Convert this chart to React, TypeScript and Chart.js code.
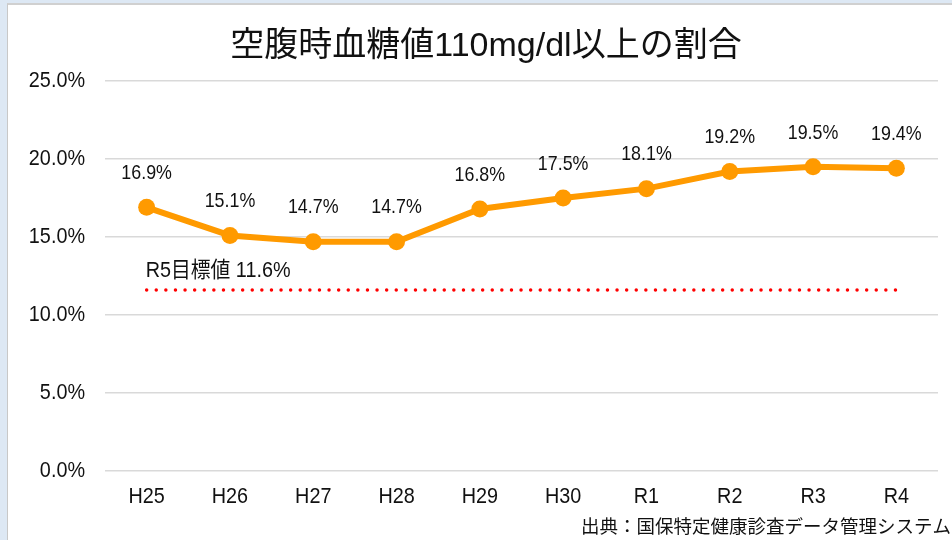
import React, { useEffect, useRef } from "react";
import { Chart, registerables } from "chart.js";

Chart.register(...registerables);

const categories = ["H25", "H26", "H27", "H28", "H29", "H30", "R1", "R2", "R3", "R4"];
const rates = [16.9, 15.1, 14.7, 14.7, 16.8, 17.5, 18.1, 19.2, 19.5, 19.4];
const targetValue = 11.6;
const targetLine = categories.map(() => targetValue);
const targetLabel = "R5目標値 11.6%";
const titleText = "空腹時血糖値110mg/dl以上の割合";
const sourceText = "出典：国保特定健康診査データ管理システム";
const yTicks = [0, 5, 10, 15, 20, 25];

const SANS = '"Liberation Sans", Arial, "Noto Sans CJK JP", sans-serif';
const CJK = '"Noto Sans CJK JP", "Noto Sans", sans-serif';

function drawText(ctx: any, text: string, x: number, y: number, align: string, sx: number) {
  ctx.save();
  ctx.textAlign = align;
  ctx.textBaseline = "middle";
  ctx.scale(sx, 1);
  ctx.fillText(text, x / sx, y);
  ctx.restore();
}

const labelPlugin = {
  id: "customLabels",
  afterDatasetsDraw(chart: any) {
    const ctx = chart.ctx;
    ctx.save();
    ctx.fillStyle = "#111111";
    // axis tick labels
    const xs = chart.scales.x;
    const ys = chart.scales.y;
    ctx.font = `22px ${SANS}`;
    yTicks.forEach((v) => {
      drawText(ctx, v.toFixed(1) + "%", 85, ys.getPixelForValue(v), "right", 0.9);
    });
    categories.forEach((c, i) => {
      drawText(ctx, c, xs.getPixelForValue(i), 497, "center", 0.9);
    });
    // data labels
    const meta = chart.getDatasetMeta(0);
    ctx.font = `21px ${SANS}`;
    meta.data.forEach((pt: any, i: number) => {
      drawText(ctx, rates[i].toFixed(1) + "%", pt.x, pt.y - 34, "center", 0.85);
    });
    // target label
    const tmeta = chart.getDatasetMeta(1);
    const p0 = tmeta.data[0];
    ctx.font = `22px ${SANS}`;
    drawText(ctx, targetLabel, p0.x - 1, p0.y - 19, "left", 0.9);
    ctx.restore();
  },
  afterDraw(chart: any) {
    const ctx = chart.ctx;
    ctx.save();
    ctx.fillStyle = "#111111";
    ctx.textBaseline = "middle";
    ctx.textAlign = "center";
    ctx.font = `34px ${SANS}`;
    ctx.fillText(titleText, 486, 47);
    ctx.textAlign = "right";
    ctx.font = `18.5px ${CJK}`;
    ctx.fillText(sourceText, 951, 526);
    ctx.restore();
  },
};

export default function App() {
  const ref = useRef<HTMLCanvasElement>(null);
  useEffect(() => {
    if (!ref.current) return;
    const chart = new Chart(ref.current, {
      type: "line",
      data: {
        labels: categories,
        datasets: [
          {
            label: "割合",
            data: rates,
            borderColor: "#FF9A00",
            backgroundColor: "#FF9A00",
            borderWidth: 6,
            pointRadius: 8.5,
            pointBackgroundColor: "#FF9A00",
            pointBorderWidth: 0,
            tension: 0,
          },
          {
            label: "R5目標値",
            data: targetLine,
            borderColor: "#FF0000",
            borderWidth: 3.5,
            borderDash: [0, 9.6],
            borderCapStyle: "round",
            pointRadius: 0,
            tension: 0,
          },
        ],
      },
      options: {
        animation: false,
        responsive: false,
        events: [],
        layout: { padding: { top: 81, right: 14, left: 0, bottom: 0 } },
        plugins: {
          legend: { display: false },
          title: { display: false },
          tooltip: { enabled: false },
        },
        scales: {
          x: {
            offset: true,
            grid: { display: false, drawTicks: false },
            border: { display: false },
            ticks: { display: false },
            afterFit(scale: any) {
              scale.height = 69;
            },
          },
          y: {
            min: 0,
            max: 25,
            afterBuildTicks(scale: any) {
              scale.ticks = yTicks.map((v) => ({ value: v }));
            },
            grid: { color: "#D9D9D9", lineWidth: 1.5, drawTicks: false },
            border: { display: false },
            ticks: { display: false },
            afterFit(scale: any) {
              scale.width = 105;
            },
          },
        },
      },
      plugins: [labelPlugin],
    } as any);
    return () => chart.destroy();
  }, []);

  return (
    <div style={{ position: "fixed", left: 0, top: 0, width: 952, height: 540, background: "#DDE8F4", overflow: "hidden" }}>
      <div
        style={{
          position: "absolute",
          left: 7,
          top: 3,
          right: 0,
          bottom: 0,
          background: "#FFFFFF",
          borderLeft: "1px solid #C8C8C8",
          borderTop: "2px solid #D0D0D0",
        }}
      />
      <canvas ref={ref} width={952} height={540} style={{ position: "absolute", left: 0, top: 0 }} />
    </div>
  );
}
